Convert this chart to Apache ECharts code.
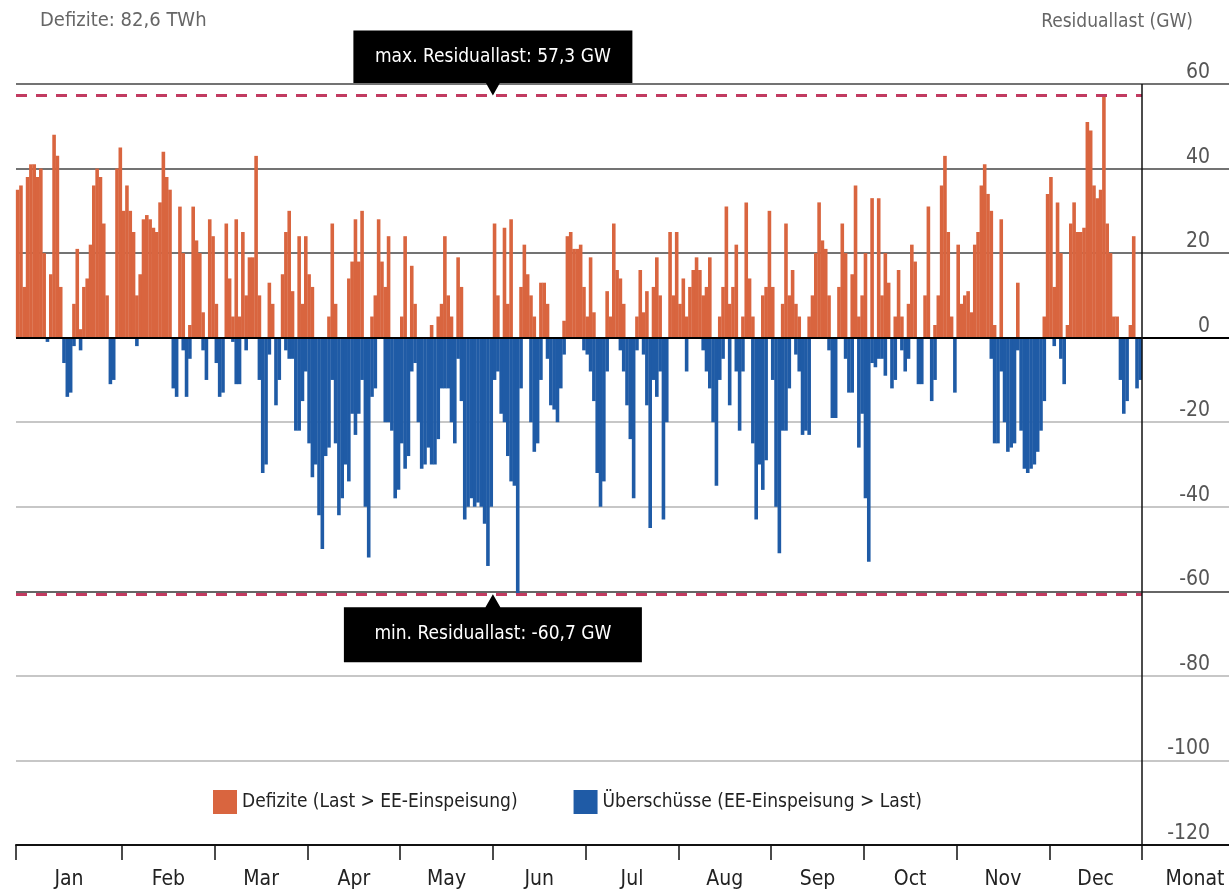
<!DOCTYPE html>
<html>
<head>
<meta charset="utf-8">
<title>Residuallast</title>
<script src="https://cdn.jsdelivr.net/npm/echarts@6/dist/echarts.min.js"></script>
<style>
  html, body { margin: 0; padding: 0; background: #fff; }
  #chart { width: 1229px; height: 892px; }
</style>
</head>
<body>
<div id="chart"></div>
<script>
// month names and how many samples each month has in the arrays below
const months = ['Jan', 'Feb', 'Mar', 'Apr', 'May', 'Jun', 'Jul', 'Aug', 'Sep', 'Oct', 'Nov', 'Dec']
const monthSamples = [32, 28, 28, 28, 28, 28, 28, 28, 28, 28, 28, 28]

// Defizite (GW, >= 0), one line per month
const defizite = [
  35, 36, 12, 38, 41, 41, 38, 40, 20, 0, 15, 48, 43, 12, 0, 0, 0, 8, 21, 2, 12, 14, 22, 36, 40, 38, 27, 10, 0, 0, 40, 45,
  30, 36, 30, 25, 10, 15, 28, 29, 28, 26, 25, 32, 44, 38, 35, 0, 0, 31, 20, 0, 3, 31, 23, 20, 6, 0, 28, 24,
  8, 0, 0, 27, 14, 5, 28, 5, 25, 10, 19, 19, 43, 10, 0, 0, 13, 8, 0, 0, 15, 25, 30, 11, 0, 24, 8, 24,
  15, 12, 0, 0, 0, 0, 5, 27, 8, 0, 0, 0, 14, 18, 28, 18, 30, 0, 0, 5, 10, 28, 18, 12, 24, 0, 0, 0,
  5, 24, 0, 17, 8, 0, 0, 0, 0, 3, 0, 5, 8, 24, 10, 5, 0, 19, 12, 0, 0, 0, 0, 0, 0, 0, 0, 0,
  27, 10, 0, 26, 8, 28, 0, 0, 12, 22, 15, 10, 5, 0, 13, 13, 8, 0, 0, 0, 0, 4, 24, 25, 21, 21, 22, 12,
  5, 19, 6, 0, 0, 0, 11, 5, 27, 16, 14, 8, 0, 0, 0, 5, 16, 6, 11, 0, 12, 19, 10, 0, 0, 25, 10, 25,
  8, 14, 5, 12, 16, 19, 16, 10, 12, 19, 0, 0, 5, 12, 31, 8, 12, 22, 0, 5, 32, 14, 5, 0, 0, 10, 12, 30,
  12, 0, 0, 8, 27, 10, 16, 8, 5, 0, 0, 5, 10, 20, 32, 23, 21, 10, 0, 0, 12, 27, 20, 0, 15, 36, 5, 10,
  20, 0, 33, 0, 33, 10, 20, 13, 0, 5, 16, 5, 0, 8, 22, 18, 0, 0, 10, 31, 0, 3, 10, 36, 43, 25, 5, 0,
  22, 8, 10, 11, 6, 22, 25, 36, 41, 34, 30, 3, 0, 28, 0, 0, 0, 0, 13, 0, 0, 0, 0, 0, 0, 0, 5, 34,
  38, 12, 32, 20, 0, 3, 27, 32, 25, 25, 26, 51, 49, 36, 33, 35, 57.3, 27, 20, 5, 5, 0, 0, 0, 3, 24, 0, 0
]

// Überschüsse (GW, <= 0)
const ueberschuesse = [
  0, 0, 0, 0, 0, 0, 0, 0, 0, -1, 0, 0, 0, 0, -6, -14, -13, -2, 0, -3, 0, 0, 0, 0, 0, 0, 0, 0, -11, -10, 0, 0,
  0, 0, 0, 0, -2, 0, 0, 0, 0, 0, 0, 0, 0, 0, 0, -12, -14, 0, -3, -14, -5, 0, 0, 0, -3, -10, 0, 0,
  -6, -14, -13, 0, 0, -1, -11, -11, 0, -3, 0, 0, 0, -10, -32, -30, -4, 0, -16, -10, 0, -3, -5, -5, -22, -22, -15, -8,
  -25, -33, -30, -42, -50, -28, -26, -10, -25, -42, -38, -30, -34, -18, -23, -18, -10, -40, -52, -14, -12, 0, 0, -20, -20, -22, -38, -36,
  -25, -31, -28, -8, -6, -20, -31, -30, -26, -30, -30, -24, -12, -12, -12, -20, -25, -5, -15, -43, -40, -38, -40, -39, -40, -44, -54, -40,
  -10, -8, -18, -20, -28, -34, -35, -60.7, -12, 0, 0, -20, -27, -25, -10, 0, -5, -16, -17, -20, -12, -4, 0, 0, 0, 0, 0, -3,
  -4, -8, -15, -32, -40, -34, -8, 0, 0, 0, -3, -8, -16, -24, -38, -3, 0, -4, -16, -45, -10, -14, -8, -43, -20, 0, 0, 0,
  0, 0, -8, 0, 0, 0, 0, -3, -8, -12, -20, -35, -10, -5, 0, -16, 0, -8, -22, -8, 0, 0, -25, -43, -30, -36, -29, 0,
  -10, -40, -51, -22, -22, -12, 0, -4, -8, -23, -22, -23, 0, 0, 0, 0, 0, -3, -19, -19, 0, 0, -5, -13, -13, 0, -26, -18,
  -38, -53, -6, -7, -5, -5, -9, 0, -12, -10, 0, -3, -8, -5, 0, 0, -11, -11, 0, 0, -15, -10, 0, 0, 0, 0, 0, -13,
  0, 0, 0, 0, 0, 0, 0, 0, 0, 0, -5, -25, -25, -8, -20, -27, -26, -25, -3, -22, -31, -32, -31, -30, -27, -22, -15, 0,
  0, -2, 0, -5, -11, 0, 0, 0, 0, 0, 0, 0, 0, 0, 0, 0, 0, 0, 0, 0, 0, -10, -18, -15, 0, 0, -12, -10
]

const yTicks = [-120, -100, -80, -60, -40, -20, 0, 20, 40, 60]
const maxResidual = 57.3
const minResidual = -60.7
const defizitTotal = '82,6 TWh'

const font = '"Liberation Sans Narrow", "DejaVu Sans Condensed", sans-serif'
const red = '#d9653f'
const blue = '#1f5ba6'

// layout in pixels
const plotLeft = 16
const plotEnd = 1142
const chartWidth = 1229

const total = defizite.length
const pxPerSample = (plotEnd - plotLeft) / total
const xMax = total * (chartWidth - plotLeft) / (plotEnd - plotLeft)
const monatPos = total + (1195 - plotEnd) / pxPerSample

const monthStarts = []
let acc = 0
monthSamples.forEach(n => { monthStarts.push(acc); acc += n })
monthStarts.push(acc)
const monthMids = monthSamples.map((n, i) => monthStarts[i] + n / 2)
const peakAt = monthStarts[5] // callouts point at the start of June

const chart = echarts.init(document.getElementById('chart'))

const option = {
  animation: false,
  title: [
    {
      text: 'Defizite: ' + defizitTotal,
      left: 35,
      top: 6,
      textStyle: { fontFamily: font, fontSize: 20, fontWeight: 'normal', color: '#666' }
    },
    {
      text: 'Residuallast (GW)',
      right: 31,
      top: 8,
      textStyle: { fontFamily: font, fontSize: 19, fontWeight: 'normal', color: '#666' }
    }
  ],
  legend: {
    left: 208,
    top: 785,
    icon: 'rect',
    itemWidth: 24,
    itemHeight: 24,
    itemGap: 56,
    textStyle: { fontFamily: font, fontSize: 19, color: '#222' }
  },
  grid: {
    left: plotLeft,
    right: 0,
    top: 84,
    bottom: 47,
    containLabel: false,
    outerBoundsMode: 'none'
  },
  xAxis: {
    type: 'value',
    min: 0,
    max: xMax,
    axisLine: { onZero: false, lineStyle: { color: '#111', width: 2 } },
    axisTick: {
      show: true,
      length: 15,
      customValues: monthStarts,
      lineStyle: { color: '#111', width: 1.5 }
    },
    axisLabel: {
      customValues: monthMids.concat([monatPos]),
      margin: 24,
      fontFamily: font,
      fontSize: 21,
      color: '#222',
      formatter: v => {
        const i = monthMids.indexOf(v)
        return i >= 0 ? months[i] : 'Monat'
      }
    },
    splitLine: { show: false }
  },
  yAxis: {
    type: 'value',
    position: 'right',
    min: yTicks[0],
    max: yTicks[yTicks.length - 1],
    interval: 20,
    axisLine: { show: false },
    axisTick: { show: false },
    axisLabel: {
      inside: true,
      margin: 19,
      align: 'right',
      verticalAlign: 'bottom',
      padding: [0, 0, 1, 0],
      fontFamily: font,
      fontSize: 21,
      color: '#555'
    },
    splitLine: {
      lineStyle: {
        width: 1.5,
        color: ['#111', '#b4b4b4', '#b4b4b4', '#333', '#b4b4b4', '#b4b4b4', '#111', '#444', '#444', '#444']
      }
    }
  },
  series: [
    {
      name: 'Defizite (Last > EE-Einspeisung)',
      type: 'bar',
      data: defizite.map((v, i) => [i + 0.5, v]),
      barWidth: 3.6,
      barGap: '-100%',
      itemStyle: { color: red },
      markLine: {
        silent: true,
        symbol: 'none',
        label: { show: false },
        lineStyle: { color: '#c23b61', type: [11, 9], width: 3 },
        data: [
          [{ coord: [0, maxResidual] }, { coord: [total, maxResidual] }],
          [{ coord: [0, minResidual] }, { coord: [total, minResidual] }]
        ]
      },
      markPoint: {
        silent: true,
        data: [
          {
            coord: [peakAt, maxResidual],
            symbol: 'path://M0,0 H100 V81 H52.5 L50,100 L47.5,81 H0 Z',
            symbolSize: [279, 65],
            symbolKeepAspect: false,
            symbolOffset: [0, '-50%'],
            itemStyle: { color: '#000' },
            label: {
              show: true,
              position: 'inside',
              offset: [0, -6],
              formatter: 'max. Residuallast: ' + String(maxResidual).replace('.', ',') + ' GW',
              fontFamily: font,
              fontSize: 19,
              color: '#fff'
            }
          }
        ]
      },
      z: 3
    },
    {
      name: 'Überschüsse (EE-Einspeisung > Last)',
      type: 'bar',
      data: ueberschuesse.map((v, i) => [i + 0.5, v]),
      barWidth: 3.6,
      barGap: '-100%',
      itemStyle: { color: blue },
      markLine: {
        silent: true,
        symbol: 'none',
        label: { show: false },
        data: [
          { yAxis: 0, lineStyle: { color: '#000', type: 'solid', width: 2 } },
          { xAxis: total, lineStyle: { color: '#111', type: 'solid', width: 1.5 } }
        ]
      },
      markPoint: {
        silent: true,
        data: [
          {
            coord: [peakAt, minResidual],
            symbol: 'path://M0,19 H47.5 L50,0 L52.5,19 H100 V100 H0 Z',
            symbolSize: [298, 68],
            symbolKeepAspect: false,
            symbolOffset: [0, '50%'],
            itemStyle: { color: '#000' },
            label: {
              show: true,
              position: 'inside',
              offset: [0, 6],
              formatter: 'min. Residuallast: ' + String(minResidual).replace('.', ',') + ' GW',
              fontFamily: font,
              fontSize: 19,
              color: '#fff'
            }
          }
        ]
      },
      z: 3
    }
  ]
}

chart.setOption(option)

window.addEventListener('resize', () => {
  chart.resize()
})
</script>
</body>
</html>
